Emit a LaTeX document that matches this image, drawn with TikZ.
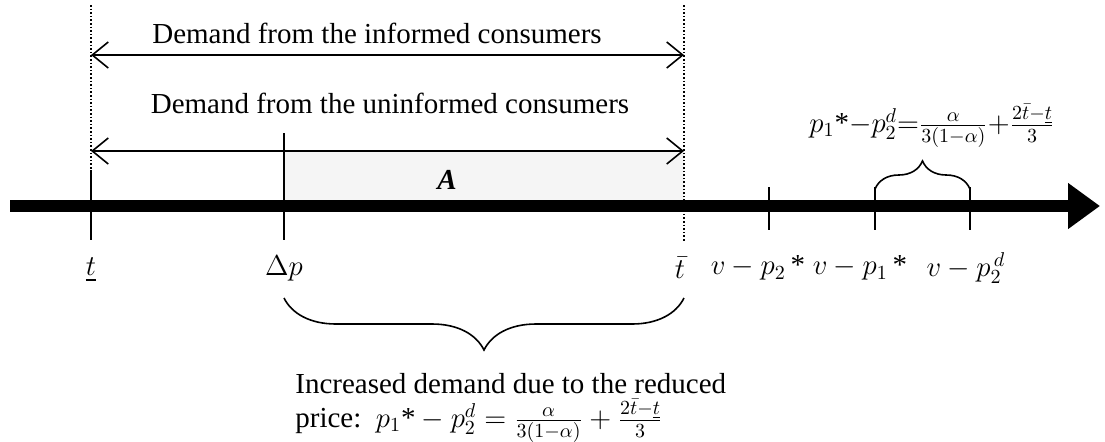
\documentclass[tikz,border=0pt]{standalone}
\usepackage{amsmath}
\usepackage[no-math]{fontspec}
\setmainfont{Liberation Serif}
\usetikzlibrary{arrows.meta,decorations.pathreplacing}
\begin{document}
\begin{tikzpicture}[x=0.5pt,y=-0.5pt,
  font=\fontsize{14.5}{17}\selectfont,
  tickline/.style={line width=1pt},
  guide/.style={line width=0.8pt, densely dotted},
  span/.style={line width=0.7pt,
    {Straight Barb[length=8pt,width=13pt,line width=0.8pt]}-{Straight Barb[length=8pt,width=13pt,line width=0.8pt]}},
  axisline/.style={line width=6pt, -{Triangle[length=16pt,width=22pt]}},
  bracel/.style={line width=0.8pt, decorate},
  lab/.style={inner sep=0pt, anchor=center},
  area/.style={fill=gray!8}
]
\useasboundingbox (0,0) rectangle (1105,441);
% coordinates
\coordinate (axs) at (10,206);
\coordinate (axe) at (1100,206);
\coordinate (Ltop) at (91,5);
\coordinate (Lmid) at (91,170);
\coordinate (Lbot) at (91,240);
\coordinate (Dtop) at (284,133);
\coordinate (Dbot) at (284,240);
\coordinate (Ttop) at (684,5);
\coordinate (Tbot) at (684,242);
\coordinate (atop) at (769,187);
\coordinate (abot) at (769,230);
\coordinate (btop) at (875,187);
\coordinate (bbot) at (875,230);
\coordinate (ctop) at (970,187);
\coordinate (cbot) at (970,230);
\coordinate (infl) at (91,55);
\coordinate (infr) at (684,55);
\coordinate (unl) at (91,151);
\coordinate (unr) at (684,151);
\coordinate (bbl) at (284,298);
\coordinate (bbr) at (684,298);
\coordinate (sbl) at (875,189);
\coordinate (sbr) at (970,189);
% shaded area
\fill[area] (284,152) rectangle (684,200);
\node[lab] (A) at (447,180) {\textbf{\textit{A}}};
% guides and ticks
\draw[guide] (Ltop) -- (Lmid);
\draw[tickline] (Lmid) -- (Lbot);
\draw[guide] (Ttop) -- (Tbot);
\draw[tickline] (Dtop) -- (Dbot);
\draw[tickline] (atop) -- (abot);
\draw[tickline] (btop) -- (bbot);
\draw[tickline] (ctop) -- (cbot);
% axis
\draw[axisline] (axs) -- (axe);
% spans
\draw[span] (infl) -- (infr);
\draw[span] (unl) -- (unr);
\node[lab] (inftext) at (377,33) {Demand from the informed consumers};
\node[lab] (untext) at (390,103) {Demand from the uninformed consumers};
% braces
\draw[bracel, decoration={brace, mirror, amplitude=26pt}] (bbl) -- (bbr);
\draw[bracel, decoration={brace, amplitude=14pt}] (sbl) -- (sbr);
% axis labels
\node[lab] (lt) at (91,270) {$\underline{t}$};
\node[lab] (ldp) at (284,268) {$\Delta p$};
\node[lab] (ltb) at (680,268) {$\bar{t}$};
\node[lab] (la) at (758,268) {$v-p_2\,\text{*}$};
\node[lab] (lb) at (860,268) {$v-p_1\,\text{*}$};
\node[lab] (lc) at (966,268) {$v-p_2^{\,d}$};
% formulas
\node[lab] (topf) at (932,126) {$p_1\text{*}{-}p_2^d{=}\tfrac{\alpha}{3(1-\alpha)}{+}\tfrac{2\bar{t}-\underline{t}}{3}$};
\node[anchor=west, inner sep=0pt] (botl1) at (295,384) {Increased demand due to the reduced};
\node[anchor=west, inner sep=0pt] (botl2) at (295,421) {price:\ \ $p_1\text{*}-p_2^d=\tfrac{\alpha}{3(1-\alpha)}+\tfrac{2\bar{t}-\underline{t}}{3}$};
\end{tikzpicture}
\end{document}
